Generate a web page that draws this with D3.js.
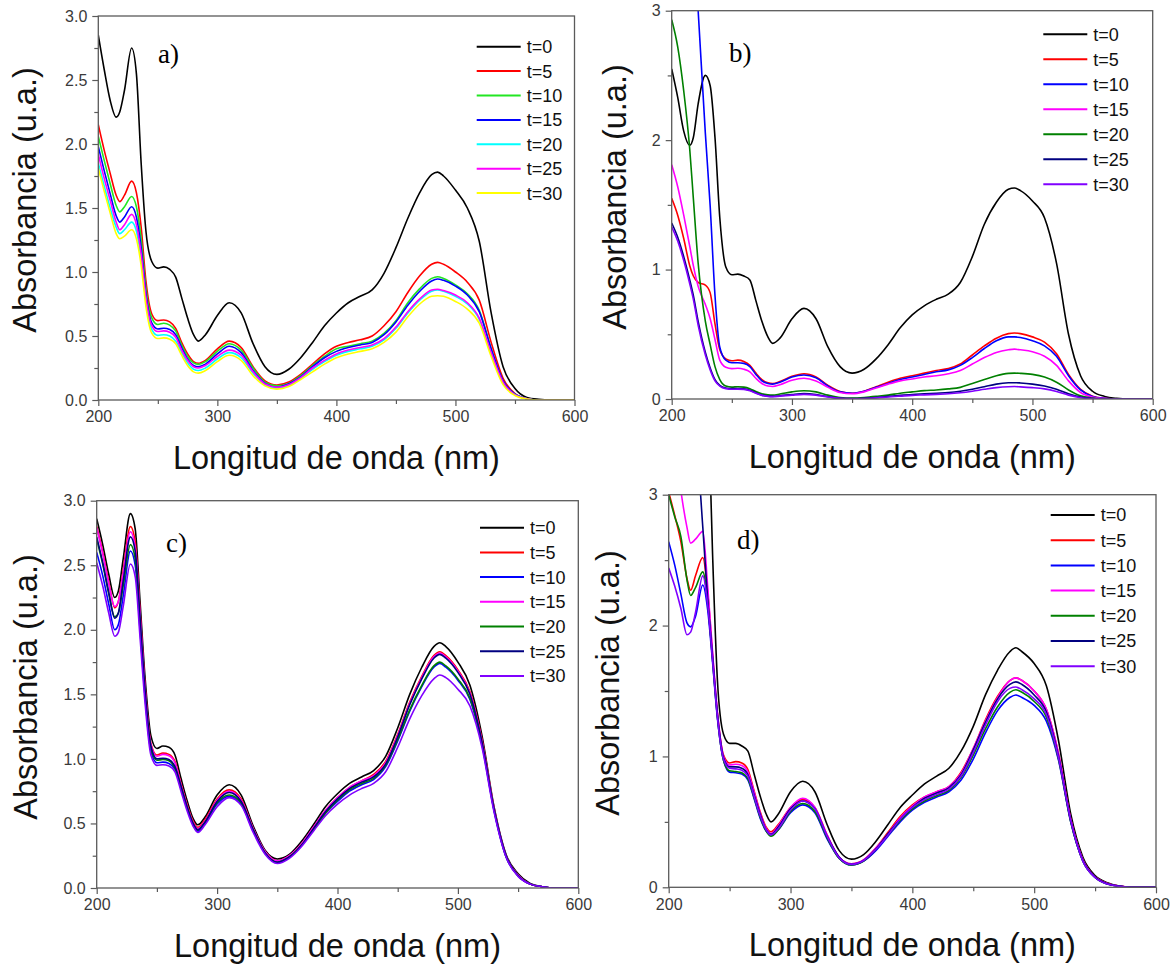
<!DOCTYPE html>
<html><head><meta charset="utf-8">
<script src="https://cdn.jsdelivr.net/npm/d3@7"></script>
<style>body{margin:0;background:#fff;} svg{display:block;}</style>
</head><body><svg id="chart" width="1176" height="968"></svg>
<script>
// ---------- DATA ----------
const wavelengths = [200,205,210,215,218,222,228,232,236,240,245,250,255,260,265,270,275,280,284,290,300,310,320,330,340,350,360,370,380,390,400,410,420,430,440,450,460,470,480,485,490,500,510,520,530,540,550,560,570,580,600];
const seriesLabels = ["t=0","t=5","t=10","t=15","t=20","t=25","t=30"];
const xTickValues = [200,300,400,500,600];
const xMinorValues = [250,350,450,550];
const yTicksFine = [0,0.5,1,1.5,2,2.5,3];
const yMinorFine = [0.25,0.75,1.25,1.75,2.25,2.75];
const yTicksCoarse = [0,1,2,3];
const yMinorCoarse = [0.5,1.5,2.5];
const panelNames = ["a)","b)","c)","d)"];
const colorsA = ["#000000","#ff0000","#22e622","#0000ff","#00ffff","#ff00ff","#ffff00"];
const colorsBCD = ["#000000","#ff0000","#0000ff","#ff00ff","#008000","#000080","#8000ff"];

// panel a
const a_t0  = [2.85,2.58,2.34,2.21,2.25,2.42,2.75,2.55,1.85,1.32,1.08,1.03,1.04,1.02,0.96,0.80,0.64,0.51,0.46,0.51,0.66,0.76,0.68,0.44,0.26,0.20,0.24,0.33,0.45,0.58,0.68,0.76,0.81,0.86,0.99,1.19,1.42,1.62,1.76,1.78,1.75,1.64,1.50,1.24,0.68,0.26,0.09,0.02,0.005,0,0];
const a_t5  = [2.15,1.95,1.77,1.60,1.55,1.60,1.71,1.62,1.35,0.93,0.67,0.62,0.625,0.61,0.56,0.45,0.36,0.30,0.287,0.31,0.40,0.46,0.41,0.26,0.15,0.117,0.14,0.20,0.28,0.36,0.42,0.45,0.47,0.50,0.58,0.69,0.84,0.97,1.06,1.075,1.06,1.00,0.92,0.78,0.45,0.17,0.05,0.01,0,0,0];
const a_t10 = [2.06,1.87,1.69,1.52,1.47,1.51,1.59,1.51,1.26,0.87,0.64,0.59,0.60,0.585,0.54,0.43,0.34,0.29,0.278,0.30,0.38,0.44,0.39,0.25,0.14,0.11,0.13,0.19,0.27,0.34,0.40,0.42,0.44,0.46,0.52,0.62,0.76,0.87,0.95,0.963,0.95,0.90,0.83,0.70,0.40,0.15,0.045,0.01,0,0,0];
const a_t15 = [1.98,1.79,1.61,1.44,1.39,1.43,1.51,1.43,1.19,0.83,0.60,0.555,0.56,0.55,0.51,0.41,0.32,0.27,0.26,0.28,0.36,0.42,0.37,0.23,0.13,0.10,0.125,0.18,0.26,0.33,0.38,0.41,0.43,0.45,0.51,0.61,0.74,0.85,0.93,0.945,0.935,0.89,0.82,0.69,0.40,0.15,0.045,0.01,0,0,0];
const a_t20 = [1.85,1.67,1.50,1.35,1.30,1.33,1.39,1.32,1.10,0.77,0.55,0.505,0.51,0.50,0.46,0.37,0.29,0.24,0.23,0.25,0.32,0.37,0.33,0.21,0.12,0.09,0.115,0.17,0.24,0.30,0.35,0.38,0.40,0.42,0.47,0.56,0.68,0.78,0.85,0.86,0.85,0.81,0.75,0.63,0.36,0.13,0.04,0.01,0,0,0];
const a_t25 = [1.92,1.73,1.56,1.39,1.33,1.37,1.45,1.37,1.14,0.80,0.58,0.535,0.54,0.53,0.49,0.39,0.31,0.26,0.25,0.27,0.34,0.39,0.35,0.22,0.125,0.10,0.12,0.175,0.25,0.31,0.36,0.39,0.41,0.43,0.48,0.57,0.69,0.79,0.86,0.865,0.855,0.82,0.76,0.64,0.37,0.14,0.04,0.01,0,0,0];
const a_t30 = [1.81,1.63,1.46,1.30,1.26,1.28,1.33,1.26,1.05,0.73,0.52,0.48,0.485,0.475,0.44,0.35,0.27,0.22,0.21,0.23,0.30,0.35,0.31,0.19,0.11,0.085,0.105,0.16,0.22,0.28,0.33,0.36,0.38,0.40,0.45,0.53,0.65,0.75,0.81,0.815,0.81,0.77,0.71,0.60,0.34,0.12,0.035,0.008,0,0,0];

// panel b
const b_t0  = [2.55,2.33,2.07,1.96,2.02,2.28,2.50,2.42,2.02,1.40,1.02,0.96,0.965,0.95,0.92,0.76,0.60,0.48,0.43,0.47,0.62,0.70,0.62,0.40,0.25,0.20,0.23,0.31,0.42,0.55,0.65,0.72,0.77,0.81,0.90,1.10,1.35,1.52,1.62,1.63,1.61,1.53,1.40,1.05,0.50,0.18,0.06,0.02,0.005,0,0];
const b_t5  = [1.55,1.42,1.24,1.03,0.95,0.90,0.88,0.82,0.58,0.38,0.31,0.295,0.30,0.29,0.26,0.20,0.15,0.125,0.12,0.135,0.175,0.195,0.17,0.105,0.058,0.045,0.06,0.095,0.13,0.16,0.18,0.20,0.22,0.235,0.27,0.34,0.41,0.47,0.505,0.51,0.505,0.48,0.44,0.35,0.19,0.075,0.022,0.005,0,0,0];
const b_t10 = [5.0,4.8,4.5,4.0,3.6,3.0,2.05,1.49,0.80,0.40,0.30,0.28,0.28,0.275,0.25,0.19,0.14,0.12,0.115,0.13,0.17,0.185,0.165,0.10,0.055,0.044,0.06,0.09,0.12,0.15,0.17,0.19,0.21,0.225,0.26,0.32,0.39,0.45,0.48,0.48,0.475,0.45,0.41,0.33,0.18,0.07,0.02,0.005,0,0,0];
const b_t15 = [1.81,1.64,1.42,1.18,1.03,0.87,0.73,0.62,0.46,0.30,0.245,0.235,0.237,0.23,0.21,0.16,0.12,0.10,0.097,0.11,0.145,0.16,0.14,0.09,0.05,0.04,0.055,0.085,0.115,0.14,0.155,0.17,0.18,0.195,0.22,0.27,0.32,0.36,0.38,0.385,0.38,0.365,0.33,0.26,0.14,0.05,0.015,0.003,0,0,0];
const b_t20 = [2.93,2.72,2.38,1.93,1.55,1.05,0.60,0.42,0.25,0.15,0.10,0.092,0.095,0.092,0.08,0.058,0.04,0.032,0.03,0.038,0.055,0.064,0.055,0.03,0.012,0.008,0.012,0.02,0.03,0.045,0.055,0.065,0.07,0.078,0.09,0.12,0.15,0.18,0.198,0.20,0.198,0.19,0.17,0.13,0.07,0.025,0.008,0,0,0,0];
const b_t25 = [1.36,1.25,1.10,0.92,0.80,0.60,0.36,0.24,0.15,0.105,0.085,0.08,0.08,0.078,0.068,0.048,0.03,0.022,0.02,0.025,0.035,0.042,0.035,0.018,0.006,0.003,0.006,0.012,0.02,0.028,0.035,0.04,0.045,0.05,0.06,0.075,0.095,0.115,0.125,0.126,0.124,0.115,0.10,0.075,0.04,0.015,0.004,0,0,0,0];
const b_t30 = [1.33,1.22,1.07,0.89,0.77,0.57,0.34,0.225,0.14,0.10,0.08,0.075,0.076,0.074,0.064,0.045,0.028,0.02,0.018,0.022,0.03,0.036,0.03,0.015,0.005,0.002,0.004,0.009,0.016,0.022,0.028,0.032,0.036,0.04,0.048,0.06,0.075,0.088,0.095,0.096,0.094,0.088,0.078,0.058,0.03,0.01,0.003,0,0,0,0];

// panel c
const c_t0  = [2.86,2.66,2.43,2.25,2.30,2.55,2.90,2.78,2.22,1.65,1.18,1.08,1.10,1.09,1.03,0.85,0.68,0.54,0.49,0.55,0.72,0.80,0.72,0.48,0.29,0.225,0.26,0.36,0.49,0.63,0.73,0.81,0.86,0.91,1.02,1.24,1.50,1.71,1.87,1.90,1.87,1.75,1.57,1.18,0.63,0.26,0.11,0.035,0.01,0,0];
const c_t5  = [2.80,2.60,2.37,2.17,2.22,2.46,2.80,2.68,2.14,1.58,1.12,1.03,1.045,1.035,0.98,0.81,0.65,0.52,0.47,0.53,0.69,0.76,0.69,0.46,0.28,0.21,0.25,0.34,0.47,0.60,0.70,0.78,0.83,0.88,0.98,1.19,1.44,1.64,1.80,1.83,1.80,1.69,1.52,1.15,0.62,0.25,0.10,0.03,0.01,0,0];
const c_t10 = [2.60,2.42,2.20,2.00,2.04,2.26,2.61,2.50,2.00,1.50,1.06,0.97,0.975,0.965,0.92,0.77,0.62,0.49,0.44,0.50,0.65,0.71,0.65,0.44,0.27,0.20,0.24,0.33,0.45,0.58,0.67,0.75,0.80,0.84,0.94,1.14,1.37,1.56,1.71,1.74,1.71,1.61,1.46,1.11,0.60,0.24,0.095,0.03,0.01,0,0];
const c_t15 = [2.79,2.59,2.36,2.18,2.22,2.44,2.76,2.64,2.12,1.57,1.11,1.02,1.035,1.025,0.97,0.80,0.64,0.51,0.46,0.52,0.68,0.75,0.68,0.46,0.28,0.21,0.25,0.34,0.47,0.60,0.70,0.78,0.83,0.87,0.97,1.18,1.43,1.63,1.79,1.82,1.79,1.68,1.51,1.14,0.62,0.25,0.10,0.03,0.01,0,0];
const c_t20 = [2.70,2.51,2.28,2.10,2.13,2.34,2.66,2.55,2.04,1.52,1.08,0.99,0.995,0.985,0.93,0.78,0.63,0.50,0.45,0.51,0.66,0.72,0.66,0.45,0.27,0.20,0.24,0.33,0.45,0.58,0.68,0.76,0.81,0.85,0.95,1.15,1.38,1.57,1.72,1.75,1.72,1.62,1.47,1.12,0.61,0.245,0.095,0.03,0.01,0,0];
const c_t25 = [2.72,2.52,2.29,2.09,2.13,2.38,2.72,2.61,2.09,1.55,1.10,1.00,1.005,0.995,0.94,0.79,0.63,0.50,0.45,0.51,0.67,0.74,0.67,0.45,0.27,0.20,0.24,0.33,0.46,0.59,0.69,0.77,0.82,0.86,0.96,1.17,1.42,1.62,1.78,1.81,1.78,1.67,1.50,1.13,0.61,0.25,0.095,0.03,0.01,0,0];
const c_t30 = [2.52,2.34,2.13,1.95,1.98,2.18,2.51,2.41,1.94,1.45,1.03,0.95,0.955,0.945,0.90,0.75,0.60,0.48,0.43,0.49,0.63,0.70,0.64,0.43,0.26,0.19,0.23,0.32,0.44,0.56,0.65,0.72,0.77,0.81,0.90,1.09,1.31,1.49,1.62,1.65,1.63,1.54,1.41,1.09,0.59,0.24,0.09,0.03,0.01,0,0];

// panel d
const d_t0  = [4.6,4.3,4.1,4.0,4.0,4.1,4.3,3.8,2.55,1.58,1.17,1.10,1.10,1.08,1.04,0.87,0.70,0.56,0.50,0.56,0.73,0.81,0.73,0.48,0.28,0.215,0.25,0.35,0.48,0.61,0.705,0.79,0.85,0.91,1.04,1.23,1.47,1.66,1.80,1.83,1.80,1.71,1.54,1.12,0.56,0.23,0.09,0.035,0.01,0,0];
const d_t5  = [3.02,2.84,2.64,2.36,2.27,2.38,2.52,2.25,1.78,1.33,1.01,0.95,0.96,0.95,0.90,0.74,0.58,0.46,0.425,0.48,0.61,0.67,0.61,0.40,0.23,0.18,0.21,0.30,0.42,0.54,0.63,0.69,0.73,0.77,0.88,1.06,1.28,1.46,1.58,1.60,1.58,1.50,1.36,1.02,0.52,0.21,0.08,0.03,0.01,0,0];
const d_t10 = [2.64,2.46,2.24,2.02,1.99,2.07,2.31,2.12,1.72,1.29,0.97,0.88,0.875,0.865,0.82,0.68,0.53,0.43,0.40,0.44,0.57,0.63,0.57,0.37,0.22,0.17,0.20,0.28,0.39,0.50,0.59,0.65,0.69,0.73,0.82,0.98,1.18,1.35,1.45,1.47,1.45,1.39,1.27,0.97,0.50,0.20,0.075,0.025,0.008,0,0];
const d_t15 = [3.7,3.4,3.03,2.75,2.63,2.66,2.72,2.30,1.80,1.34,1.00,0.935,0.94,0.93,0.88,0.73,0.57,0.45,0.41,0.47,0.61,0.68,0.61,0.40,0.23,0.18,0.21,0.30,0.41,0.53,0.62,0.69,0.73,0.77,0.87,1.06,1.27,1.45,1.58,1.60,1.58,1.50,1.36,1.02,0.52,0.21,0.08,0.03,0.01,0,0];
const d_t20 = [3.00,2.83,2.68,2.35,2.23,2.29,2.41,2.18,1.74,1.30,0.97,0.89,0.885,0.875,0.83,0.69,0.54,0.43,0.39,0.44,0.58,0.64,0.58,0.38,0.22,0.17,0.20,0.29,0.40,0.51,0.60,0.66,0.70,0.74,0.84,1.01,1.21,1.38,1.49,1.51,1.49,1.42,1.30,0.98,0.50,0.20,0.075,0.025,0.008,0,0];
const d_t25 = [4.5,4.3,4.1,3.9,3.7,3.5,2.75,2.20,1.76,1.32,0.99,0.92,0.92,0.91,0.86,0.71,0.56,0.44,0.405,0.46,0.60,0.66,0.60,0.39,0.23,0.175,0.205,0.29,0.41,0.52,0.61,0.68,0.72,0.76,0.86,1.05,1.26,1.44,1.55,1.57,1.55,1.47,1.34,1.00,0.51,0.205,0.078,0.028,0.009,0,0];
const d_t30 = [2.44,2.30,2.13,1.93,1.95,2.10,2.38,2.16,1.74,1.30,0.98,0.91,0.905,0.895,0.85,0.70,0.55,0.44,0.40,0.45,0.59,0.66,0.60,0.39,0.225,0.175,0.205,0.29,0.40,0.52,0.61,0.67,0.71,0.75,0.85,1.03,1.24,1.42,1.52,1.53,1.51,1.44,1.32,0.99,0.51,0.20,0.075,0.025,0.008,0,0];

// ---------- LAYOUT ----------
const panels = [
  {name: panelNames[0], series:[a_t0,a_t5,a_t10,a_t15,a_t20,a_t25,a_t30], colors: colorsA,
   left:98.3, right:574.5, top:16, bottom:400, yTicks:yTicksFine, yMinor:yMinorFine, yFmt:d3.format(".1f"),
   legX:476.7, legY:46.7, legDy:24.4, lblX:158, lblY:63, yLblX:36, yLblY:200},
  {name: panelNames[1], series:[b_t0,b_t5,b_t10,b_t15,b_t20,b_t25,b_t30], colors: colorsBCD,
   left:671.7, right:1152.7, top:10.7, bottom:399, yTicks:yTicksCoarse, yMinor:yMinorCoarse, yFmt:d3.format("d"),
   legX:1043.3, legY:34.3, legDy:25, lblX:729, lblY:62, yLblX:626, yLblY:197},
  {name: panelNames[2], series:[c_t0,c_t5,c_t10,c_t15,c_t20,c_t25,c_t30], colors: colorsBCD,
   left:96.7, right:578.3, top:500.7, bottom:888, yTicks:yTicksFine, yMinor:yMinorFine, yFmt:d3.format(".1f"),
   legX:480, legY:527.7, legDy:24.7, lblX:166, lblY:552, yLblX:37, yLblY:687},
  {name: panelNames[3], series:[d_t0,d_t5,d_t10,d_t15,d_t20,d_t25,d_t30], colors: colorsBCD,
   left:668.7, right:1156, top:494.7, bottom:887.3, yTicks:yTicksCoarse, yMinor:yMinorCoarse, yFmt:d3.format("d"),
   legX:1050.7, legY:515, legDy:25.2, lblX:737, lblY:549, yLblX:619, yLblY:683}
];

panels.forEach(p => p.series.forEach((s,i) => {
  if (s.length !== wavelengths.length) throw new Error("length mismatch " + p.name + " series " + i + ": " + s.length);
}));

const svg = d3.select("#chart");
const SANS = "'Liberation Sans', Arial, Helvetica, sans-serif";
const AXIS_COLOR = "#5a5a5a";

panels.forEach((p, pi) => {
  const x = d3.scaleLinear().domain([200,600]).range([p.left, p.right]);
  const y = d3.scaleLinear().domain([0,3]).range([p.bottom, p.top]);
  const g = svg.append("g");

  const clipId = "clip" + pi;
  svg.append("clipPath").attr("id", clipId).append("rect")
    .attr("x", p.left).attr("y", p.top).attr("width", p.right - p.left).attr("height", p.bottom - p.top);

  const line = d3.line().x((d,i) => x(wavelengths[i])).y(d => y(d)).curve(d3.curveMonotoneX);
  const lg = g.append("g").attr("clip-path", `url(#${clipId})`);
  p.series.forEach((s, i) => {
    lg.append("path").attr("d", line(s)).attr("fill","none")
      .attr("stroke", p.colors[i]).attr("stroke-width", 1.6).attr("stroke-linejoin","round");
  });

  // frame
  g.append("rect").attr("x", p.left).attr("y", p.top).attr("width", p.right - p.left).attr("height", p.bottom - p.top)
    .attr("fill","none").attr("stroke", AXIS_COLOR).attr("stroke-width", 1.3);

  // x axis
  g.append("g").attr("transform", `translate(0,${p.bottom})`)
    .call(d3.axisBottom(x).tickValues(xTickValues).tickSize(6).tickSizeOuter(0).tickPadding(5).tickFormat(d3.format("d")));
  g.append("g").attr("transform", `translate(0,${p.bottom})`)
    .call(d3.axisBottom(x).tickValues(xMinorValues).tickSize(4).tickSizeOuter(0).tickFormat(""));
  // y axis
  g.append("g").attr("transform", `translate(${p.left},0)`)
    .call(d3.axisLeft(y).tickValues(p.yTicks).tickSize(6).tickSizeOuter(0).tickPadding(5).tickFormat(p.yFmt));
  g.append("g").attr("transform", `translate(${p.left},0)`)
    .call(d3.axisLeft(y).tickValues(p.yMinor).tickSize(4).tickSizeOuter(0).tickFormat(""));

  g.selectAll(".domain").remove();
  g.selectAll(".tick line").attr("stroke", AXIS_COLOR).attr("stroke-width", 1.2);
  g.selectAll(".tick text").attr("fill", "#3a3a3a").style("font-family", SANS).style("font-size", "16px");

  // axis titles
  g.append("text").attr("x", (p.left + p.right) / 2).attr("y", p.bottom + 69)
    .attr("text-anchor","middle").style("font-family", SANS).style("font-size","32.5px").attr("fill","#111")
    .text("Longitud de onda (nm)");
  g.append("text").attr("transform", `translate(${p.yLblX},${p.yLblY}) rotate(-90)`)
    .attr("text-anchor","middle").style("font-family", SANS).style("font-size","32.5px").attr("fill","#111")
    .text("Absorbancia (u.a.)");

  // panel label
  g.append("text").attr("x", p.lblX).attr("y", p.lblY)
    .style("font-family","'Liberation Serif','Times New Roman',serif").style("font-size","27px").attr("fill","#000")
    .text(p.name);

  // legend
  const leg = g.append("g");
  seriesLabels.forEach((lab, i) => {
    const yy = p.legY + i * p.legDy;
    leg.append("line").attr("x1", p.legX).attr("x2", p.legX + 44).attr("y1", yy).attr("y2", yy)
      .attr("stroke", p.colors[i]).attr("stroke-width", 2);
    leg.append("text").attr("x", p.legX + 50).attr("y", yy).attr("dy","0.36em")
      .style("font-family", SANS).style("font-size","18px").attr("fill","#111").text(lab);
  });
});
</script>
</body></html>
